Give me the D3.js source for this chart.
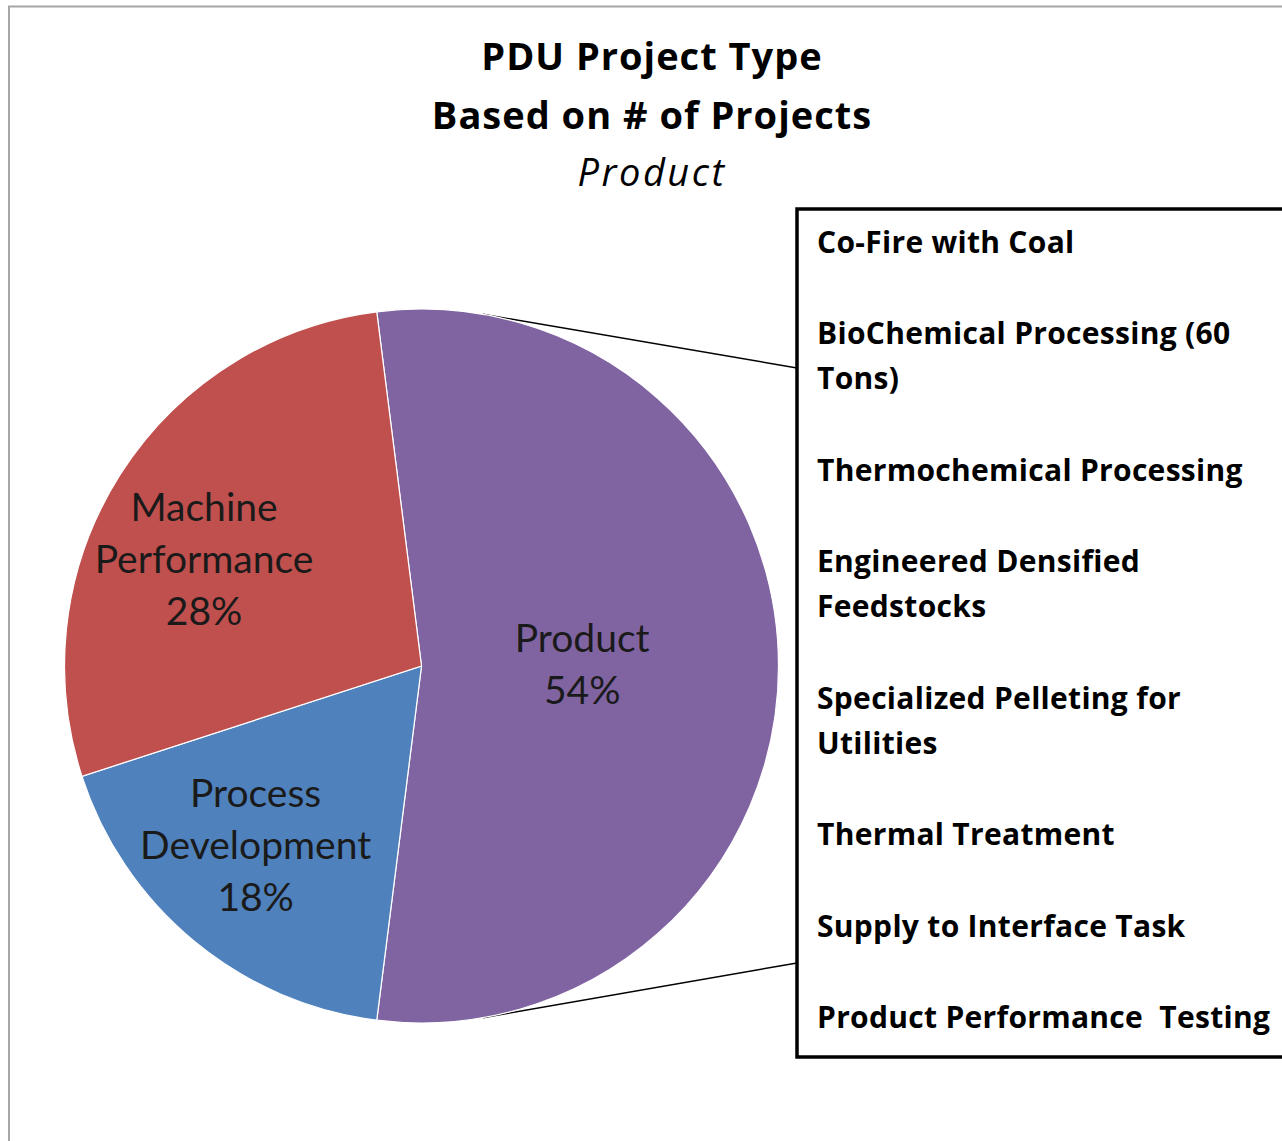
<!DOCTYPE html>
<html>
<head>
<meta charset="utf-8">
<script src="https://cdn.jsdelivr.net/npm/d3@7"></script>
<style>
	body { margin: 0; background: #fff; }
	svg { display: block; font-family: 'Open Sans', Lato, sans-serif; }
</style>
</head>
<body>
<div id="chart"></div>
<script>
// Chart data
const categories = ['Product', 'Process Development', 'Machine Performance'];
const values = [54, 18, 28];
const labelLines = [['Product', '54%'], ['Process', 'Development', '18%'], ['Machine', 'Performance', '28%']];
const colors = ['#8064A2', '#4F81BD', '#C0504D'];

// Break-out list of the Product slice
const productItems = [
	['Co-Fire with Coal'],
	['BioChemical Processing (60', 'Tons)'],
	['Thermochemical Processing'],
	['Engineered Densified', 'Feedstocks'],
	['Specialized Pelleting for', 'Utilities'],
	['Thermal Treatment'],
	['Supply to Interface Task'],
	['Product Performance  Testing']
];

const titleLines = ['PDU Project Type', 'Based on # of Projects'];
const subtitle = 'Product';

const width = 1282, height = 1141;
const cx = 421.5, cy = 666, radius = 357;

const svg = d3
	.select('#chart')
	.append('svg')
	.attr('width', width)
	.attr('height', height);

// Chart area border (right and bottom edges fall outside the picture)
svg
	.append('rect')
	.attr('x', 9)
	.attr('y', 6.5)
	.attr('width', width + 100)
	.attr('height', height + 100)
	.attr('fill', '#fff')
	.attr('stroke', '#a6a6a6')
	.attr('stroke-width', 2);

// Title
svg
	.selectAll('.title')
	.data(titleLines)
	.join('text')
	.attr('class', 'title')
	.attr('x', 652)
	.attr('y', (d, i) => 70 + i * 59)
	.attr('text-anchor', 'middle')
	.attr('font-size', 38)
	.attr('font-weight', 'bold')
	.attr('letter-spacing', 1)
	.attr('fill', '#000')
	.text((d) => d);

svg
	.append('text')
	.attr('x', 652)
	.attr('y', 186)
	.attr('text-anchor', 'middle')
	.attr('font-size', 38)
	.attr('font-style', 'italic')
	.attr('letter-spacing', 2.5)
	.attr('fill', '#000')
	.text(subtitle);

// Pie: the Product slice is centred on the right, facing the break-out box
const productShare = values[0] / d3.sum(values);
const start = Math.PI / 2 - productShare * Math.PI;
const pie = d3
	.pie()
	.sort(null)
	.startAngle(start)
	.endAngle(start + 2 * Math.PI);
const arcs = pie(values);

const arc = d3.arc().innerRadius(0).outerRadius(radius);

const g = svg.append('g').attr('transform', `translate(${cx}, ${cy})`);

// Connector lines from the Product slice to the box
const box = { x: 797, y: 209, w: 600, h: 848 };
const connAngle = 0.173;
const connectors = [
	[[radius * Math.sin(connAngle), -radius * Math.cos(connAngle)], [box.x - cx, box.y + 159 - cy]],
	[[radius * Math.sin(Math.PI - connAngle), -radius * Math.cos(Math.PI - connAngle)], [box.x - cx, box.y + box.h - 94 - cy]]
];
g.selectAll('.conn')
	.data(connectors)
	.join('line')
	.attr('class', 'conn')
	.attr('x1', (d) => d[0][0])
	.attr('y1', (d) => d[0][1])
	.attr('x2', (d) => d[1][0])
	.attr('y2', (d) => d[1][1])
	.attr('stroke', '#000')
	.attr('stroke-width', 1.5);

g.selectAll('.slice')
	.data(arcs)
	.join('path')
	.attr('class', 'slice')
	.attr('d', arc)
	.attr('fill', (d, i) => colors[i])
	.attr('stroke', '#fff')
	.attr('stroke-width', 1.2);

// Data labels (centroid at a fraction of the radius, nudged like Excel does)
const labelRadius = [0.45, 0.685, 0.685];
const labelNudge = [[0, -2], [-10, -9], [-11, 24]];
const lineH = 52;
g.selectAll('.label')
	.data(arcs)
	.join('text')
	.attr('class', 'label')
	.attr('text-anchor', 'middle')
	.attr('font-family', 'Lato, sans-serif')
	.attr('font-size', 39)
	.attr('fill', '#1a1a1a')
	.each(function (d, i) {
		const r = radius * labelRadius[i];
		const a = (d.startAngle + d.endAngle) / 2;
		const x = r * Math.sin(a) + labelNudge[i][0];
		const y = -r * Math.cos(a) + labelNudge[i][1];
		const lines = labelLines[i];
		const y0 = y - ((lines.length - 1) * lineH) / 2;
		d3.select(this)
			.selectAll('tspan')
			.data(lines)
			.join('tspan')
			.attr('x', x)
			.attr('y', (l, j) => y0 + j * lineH)
			.attr('dy', '0.35em')
			.text((l) => l);
	});

// Break-out box
svg
	.append('rect')
	.attr('x', box.x)
	.attr('y', box.y)
	.attr('width', box.w)
	.attr('height', box.h)
	.attr('fill', '#fff')
	.attr('stroke', '#000')
	.attr('stroke-width', 3.5);

const rowH = 45.6;
let row = 0;
const rows = [];
productItems.forEach((item) => {
	item.forEach((line) => {
		rows.push({ line, row });
		row += 1;
	});
	row += 1;
});

svg
	.selectAll('.item')
	.data(rows)
	.join('text')
	.attr('class', 'item')
	.attr('x', 817)
	.attr('y', (d) => 242 + d.row * rowH)
	.attr('dy', '0.35em')
	.attr('font-size', 30)
	.attr('font-weight', 'bold')
	.attr('letter-spacing', 0.3)
	.attr('fill', '#000')
	.attr('xml:space', 'preserve')
	.style('white-space', 'pre')
	.text((d) => d.line);
</script>
</body>
</html>
